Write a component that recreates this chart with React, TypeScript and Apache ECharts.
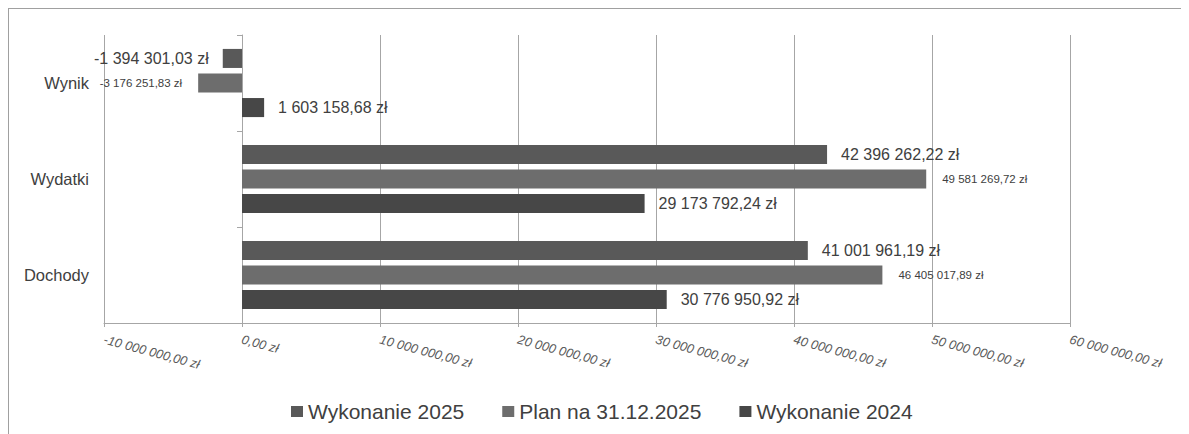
import React, { useEffect, useRef } from "react";
import * as echarts from "echarts";

const categories = ["Dochody", "Wydatki", "Wynik"];
const seriesNames = ["Wykonanie 2025", "Plan na 31.12.2025", "Wykonanie 2024"];
const wykonanie2025 = [41001961.19, 42396262.22, -1394301.03];
const plan2025 = [46405017.89, 49581269.72, -3176251.83];
const wykonanie2024 = [30776950.92, 29173792.24, 1603158.68];
const seriesColors = ["#595959", "#6d6d6d", "#474747"];
const labelSizes = [16, 11.5, 16];
const labelDistances = [14, 16, 14];

const FONT = "'Liberation Sans', Arial, Helvetica, sans-serif";

function fmtPLN(v: number): string {
  const neg = v < 0;
  const abs = Math.abs(v);
  const fixed = abs.toFixed(2);
  const [intPart, dec] = fixed.split(".");
  const grouped = intPart.replace(/\B(?=(\d{3})+(?!\d))/g, " ");
  return (neg ? "-" : "") + grouped + "," + dec + " zł";
}

export default function App() {
  const ref = useRef<HTMLDivElement>(null);
  useEffect(() => {
    if (!ref.current) return;
    const chart = echarts.init(ref.current, null, { renderer: "svg" });
    const allData = [wykonanie2025, plan2025, wykonanie2024];
    const series = allData.map((arr, i) => ({
      name: seriesNames[i],
      type: "bar",
      yAxisIndex: 0,
      barCategoryGap: "29%",
      barGap: "29%",
      itemStyle: { color: seriesColors[i] },
      label: {
        show: true,
        position: "right",
        distance: labelDistances[i],
        color: "#404040",
        fontSize: labelSizes[i],
        fontFamily: FONT,
        formatter: (p: any) => fmtPLN(p.value),
      },
      data: arr.map((v) =>
        v < 0 ? { value: v, label: { position: "left" } } : { value: v }
      ),
    }));
    chart.setOption({
      animation: false,
      grid: { left: 95, top: 26, right: 119, bottom: 111, containLabel: false },
      legend: {
        data: seriesNames,
        left: 277,
        top: 387,
        itemWidth: 12,
        itemHeight: 11,
        itemGap: 38,
        icon: "rect",
        textStyle: { fontSize: 21, color: "#404040", fontFamily: FONT },
      },
      xAxis: {
        type: "value",
        min: -10000000,
        max: 60000000,
        interval: 10000000,
        axisLine: { show: true, lineStyle: { color: "#a6a6a6", width: 1 } },
        axisTick: { show: true, length: 4, lineStyle: { color: "#a6a6a6" } },
        splitLine: { show: true, lineStyle: { color: "#a6a6a6", width: 1 } },
        axisLabel: {
          rotate: -15,
          margin: 16,
          fontSize: 12.8,
          fontStyle: "italic",
          color: "#595959",
          fontFamily: FONT,
          formatter: (v: number) => fmtPLN(v),
        },
      },
      yAxis: [
        {
          type: "category",
          data: categories,
          position: "left",
          axisLine: { show: false, onZero: false },
          axisTick: { show: false },
          splitLine: { show: false },
          axisLabel: {
            margin: 15,
            fontSize: 16.5,
            color: "#404040",
            fontFamily: FONT,
          },
        },
        {
          type: "category",
          data: categories,
          position: "right",
          axisLine: {
            show: true,
            onZero: true,
            onZeroAxisIndex: 0,
            lineStyle: { color: "#a6a6a6", width: 1 },
          },
          axisTick: {
            show: true,
            inside: true,
            length: 5,
            lineStyle: { color: "#a6a6a6" },
          },
          axisLabel: { show: false },
          splitLine: { show: false },
        },
      ],
      series,
    });
    return () => chart.dispose();
  }, []);
  return (
    <div
      style={{
        width: 1180,
        height: 425,
        borderTop: "1px solid #a0a0a0",
        borderLeft: "1px solid #a0a0a0",
      }}
    >
      <div ref={ref} style={{ width: 1180, height: 425 }} />
    </div>
  );
}
